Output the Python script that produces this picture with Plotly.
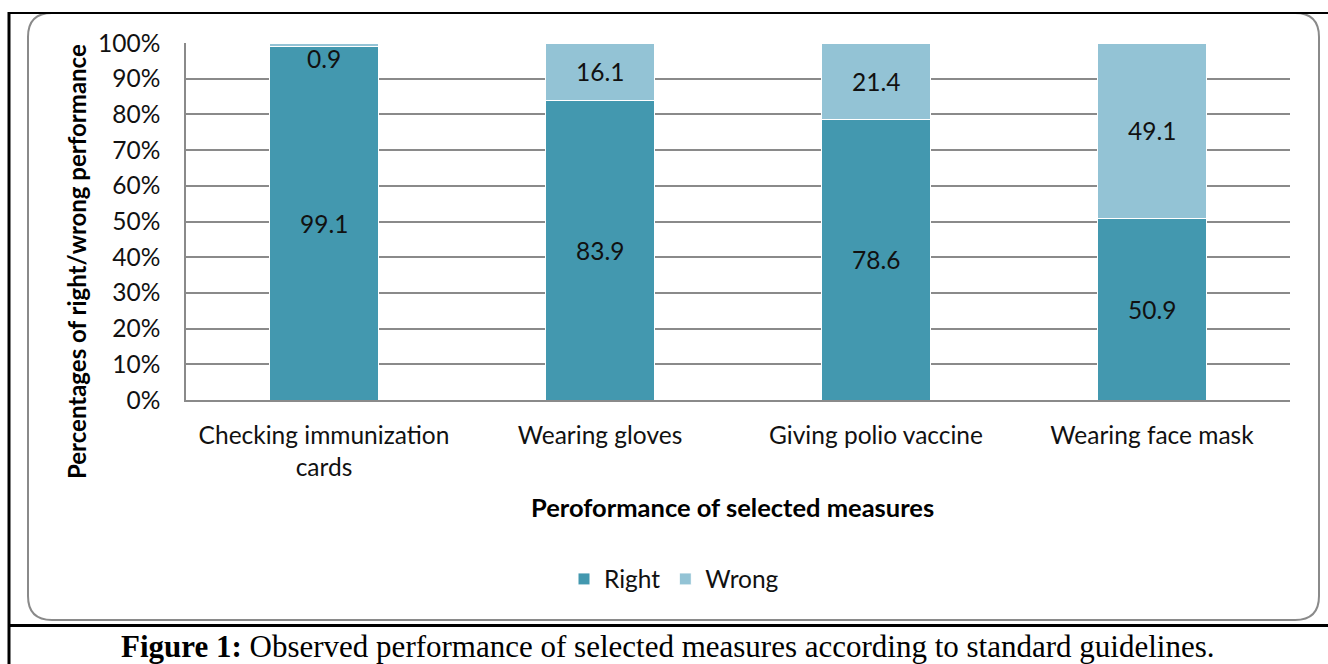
import plotly.graph_objects as go

categories = ["Checking immunization cards", "Wearing gloves", "Giving polio vaccine", "Wearing face mask"]
tick_labels = ["Checking immunization<br>cards", "Wearing gloves", "Giving polio vaccine", "Wearing face mask"]
right = [99.1, 83.9, 78.6, 50.9]
wrong = [0.9, 16.1, 21.4, 49.1]
y_ticks = [0, 10, 20, 30, 40, 50, 60, 70, 80, 90, 100]
y_tick_text = [f"{v}%" for v in y_ticks]

W, H = 1328, 664
L, R, T, B = 186, 38, 43, 264
PW, PH = W - L - R, H - T - B

def px(x):
    return (x - L) / PW

def py(y):
    return (H - B - y) / PH

FONT = "Lato"
C_RIGHT = "#4398AF"
C_WRONG = "#93C3D5"
FS = 24.5

fig = go.Figure()
fig.add_trace(go.Bar(x=categories, y=right, name="Right", marker=dict(color=C_RIGHT, line=dict(color="white", width=1))))
fig.add_trace(go.Bar(x=categories, y=wrong, name="Wrong", marker=dict(color=C_WRONG, line=dict(color="white", width=1))))

annotations = []
for i, c in enumerate(categories):
    annotations.append(dict(x=c, y=right[i] / 2, xref="x", yref="y", text=f"{right[i]}", showarrow=False,
                            xanchor="center", yanchor="middle", font=dict(family=FONT, size=FS, color="#111")))
    small = wrong[i] < 5
    annotations.append(dict(x=c, y=right[i] + wrong[i] / 2, xref="x", yref="y", text=f"{wrong[i]}", showarrow=False,
                            xanchor="center", yanchor="middle",
                            yshift=-14 if small else 0, font=dict(family=FONT, size=FS, color="#111")))

annotations.append(dict(x=px(76), y=py(262), xref="paper", yref="paper", text="<b>Percentages of right/wrong performance</b>",
                        textangle=-90, showarrow=False, xanchor="center", yanchor="middle",
                        font=dict(family=FONT, size=24, color="#000")))
annotations.append(dict(x=px(732), y=py(507), xref="paper", yref="paper", text="<b>Peroformance of selected measures</b>",
                        showarrow=False, xanchor="center", yanchor="middle", font=dict(family=FONT, size=25.5, color="#000")))
annotations.append(dict(x=px(668), y=py(646), xref="paper", yref="paper",
                        text="<b>Figure 1:</b> Observed performance of selected measures according to standard guidelines.",
                        showarrow=False, xanchor="center", yanchor="middle",
                        font=dict(family="Liberation Serif", size=31, color="#000")))

# rounded box
x0, x1, y0, y1, r = 28, 1319, 13, 620, 24
def P(a, b):
    return f"{px(a)},{py(b)}"
path = (f"M{P(x0+r,y0)} L{P(x1-r,y0)} Q{P(x1,y0)} {P(x1,y0+r)} L{P(x1,y1-r)} Q{P(x1,y1)} {P(x1-r,y1)} "
        f"L{P(x0+r,y1)} Q{P(x0,y1)} {P(x0,y1-r)} L{P(x0,y0+r)} Q{P(x0,y0)} {P(x0+r,y0)} Z")
shapes = [
    dict(type="path", path=path, xref="paper", yref="paper", line=dict(color="#8a8a8a", width=2), layer="below"),
    dict(type="line", x0=px(8), x1=px(1330), y0=py(13), y1=py(13), xref="paper", yref="paper", line=dict(color="#000", width=2)),
    dict(type="line", x0=px(9), x1=px(9), y0=py(12), y1=py(666), xref="paper", yref="paper", line=dict(color="#000", width=3)),
    dict(type="line", x0=px(8), x1=px(1330), y0=py(625.5), y1=py(625.5), xref="paper", yref="paper", line=dict(color="#000", width=3)),
]

fig.update_layout(
    width=W, height=H,
    margin=dict(l=L, r=R, t=T, b=B, pad=0),
    barmode="stack", bargap=0.605,
    plot_bgcolor="white", paper_bgcolor="white",
    font=dict(family=FONT, size=FS, color="#111"),
    xaxis=dict(tickvals=categories, ticktext=tick_labels, showline=True, linecolor="#8a8a8a", linewidth=1.5,
               ticks="", ticklabelstandoff=13, tickfont=dict(family=FONT, size=FS, color="#111")),
    yaxis=dict(range=[0, 100], tickvals=y_ticks, ticktext=y_tick_text, showgrid=True, gridcolor="#8a8a8a", gridwidth=1.5,
               showline=True, linecolor="#8a8a8a", linewidth=1.5, ticks="", ticklabelstandoff=19, zeroline=False,
               tickfont=dict(family=FONT, size=FS, color="#111")),
    legend=dict(orientation="h", x=px(674), xanchor="center", y=py(579), yanchor="middle", traceorder="normal",
                font=dict(family=FONT, size=FS, color="#111")),
    annotations=annotations, shapes=shapes,
)
fig.write_html("out.html", config={"displayModeBar": False},
               post_script="document.body.style.margin='0';document.body.style.overflow='hidden';")
